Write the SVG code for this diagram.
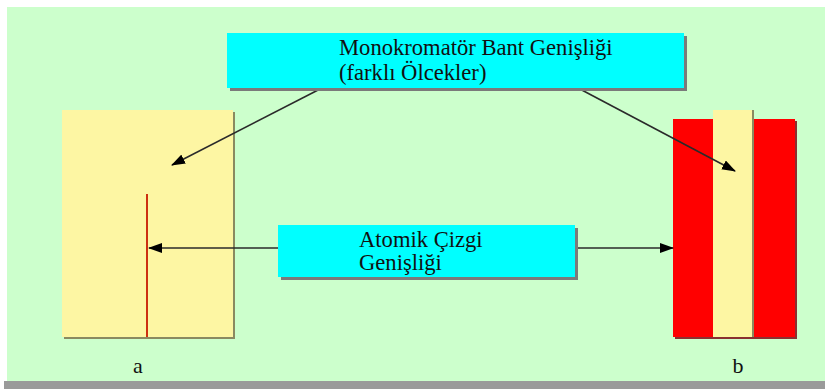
<svg xmlns="http://www.w3.org/2000/svg" width="825" height="389" viewBox="0 0 825 389">
<defs>
<style>
.t{font-family:"Liberation Serif","Times New Roman",serif;font-size:22.6px;fill:#111}
.lbl{font-family:"Liberation Serif","Times New Roman",serif;font-size:22px;fill:#111}
.conn{stroke:#2a2a2a;stroke-width:1.6;fill:none;marker-end:url(#ah)}
.box{fill:#00ffff}
.shadow{fill:#7a7a7a}
</style>
<marker id="ah" viewBox="0 0 14 10" refX="13" refY="5" markerWidth="14" markerHeight="10" markerUnits="userSpaceOnUse" orient="auto">
<path d="M0,0 L14,5 L0,10 Z" fill="#000"/>
</marker>
</defs>
<rect x="0" y="0" width="825" height="389" fill="#ffffff"/>
<rect x="7" y="7" width="818" height="375" fill="#ccffcc"/>
<rect x="4" y="381" width="821" height="8" fill="#9a9a9a"/>

<g id="panel-a">
<rect x="64" y="112" width="171" height="227" fill="#8a8a60"/>
<rect x="62" y="110" width="171" height="227" fill="#fdf6a3"/>
<line x1="147" y1="194" x2="147" y2="337" stroke="#cc3010" stroke-width="2"/>
<text class="lbl" x="138" y="373" text-anchor="middle">a</text>
</g>

<g id="panel-b">
<rect x="675" y="121" width="122" height="218" fill="#8a3030"/>
<rect x="673" y="119" width="122" height="218" fill="#ff0000"/>
<rect x="752" y="110" width="2" height="227" fill="#8a8a60"/>
<rect x="713" y="110" width="39" height="227" fill="#fdf6a3"/>
<text class="lbl" x="738" y="373" text-anchor="middle">b</text>
</g>

<g id="connectors">
<line class="conn" x1="322" y1="88" x2="172" y2="165"/>
<line class="conn" x1="578" y1="88" x2="735" y2="171"/>
<line class="conn" x1="278" y1="248" x2="149" y2="248"/>
<line class="conn" x1="575" y1="248" x2="673" y2="248"/>
</g>

<g id="box-mono">
<rect class="shadow" x="230" y="36" width="457" height="55"/>
<rect class="box" x="227" y="33" width="457" height="55"/>
<text class="t" x="339" y="55">Monokromatör Bant Genişliği</text>
<text class="t" x="339" y="80">(farklı Ölcekler)</text>
</g>

<g id="box-atomik">
<rect class="shadow" x="281" y="228" width="297" height="52"/>
<rect class="box" x="278" y="225" width="297" height="52"/>
<text class="t" x="359" y="247">Atomik Çizgi</text>
<text class="t" x="359" y="270">Genişliği</text>
</g>
</svg>
